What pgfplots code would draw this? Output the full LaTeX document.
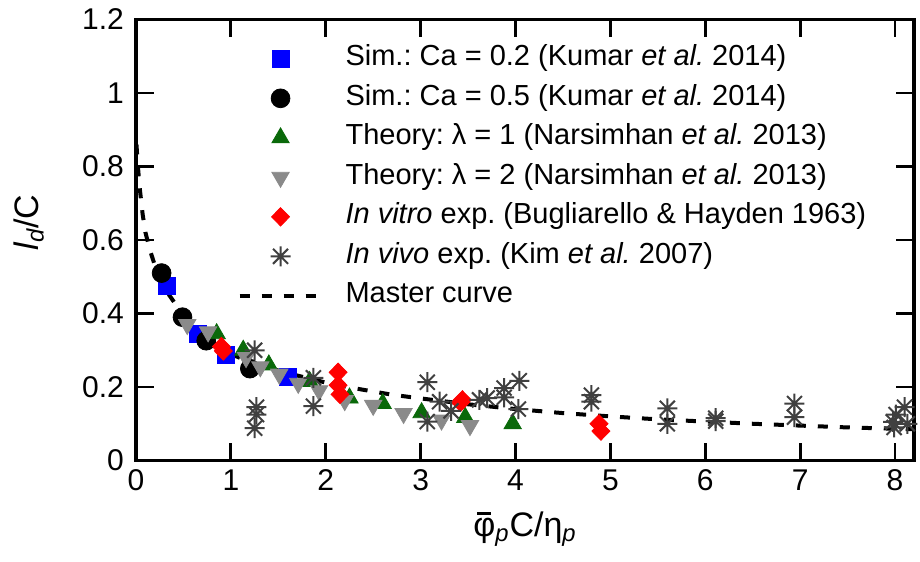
\documentclass[border=0pt]{standalone}
\usepackage{fontspec}
\setmainfont{Liberation Sans}
\usepackage{pgfplots}
\pgfplotsset{compat=1.18}
\usetikzlibrary{calc}
\frenchspacing
\definecolor{tgreen}{RGB}{10,105,10}
\definecolor{tgray}{RGB}{138,138,138}
\definecolor{tblue}{RGB}{0,0,255}
\definecolor{tred}{RGB}{255,0,0}
\newcommand{\phibar}{\leavevmode\setbox0\hbox{φ}\rlap{\hbox to\wd0{\hss\rule[\dimexpr\ht0+0.09em\relax]{0.42em}{0.065em}\hss}}φ}
\pgfdeclareplotmark{gstar}{%
  \pgfpathmoveto{\pgfqpoint{-\pgfplotmarksize}{0pt}}\pgfpathlineto{\pgfqpoint{\pgfplotmarksize}{0pt}}%
  \pgfpathmoveto{\pgfqpoint{0pt}{-\pgfplotmarksize}}\pgfpathlineto{\pgfqpoint{0pt}{\pgfplotmarksize}}%
  \pgfpathmoveto{\pgfqpoint{-.75\pgfplotmarksize}{-.75\pgfplotmarksize}}\pgfpathlineto{\pgfqpoint{.75\pgfplotmarksize}{.75\pgfplotmarksize}}%
  \pgfpathmoveto{\pgfqpoint{-.75\pgfplotmarksize}{.75\pgfplotmarksize}}\pgfpathlineto{\pgfqpoint{.75\pgfplotmarksize}{-.75\pgfplotmarksize}}%
  \pgfusepathqstroke}
\begin{document}
\begin{tikzpicture}
\begin{axis}[
  name=ax,
  scale only axis, width=389pt, height=220.5pt,
  xmin=0, xmax=8.2, ymin=0, ymax=1.2,
  xtick={0,1,2,3,4,5,6,7,8},
  ytick={0,0.2,0.4,0.6,0.8,1,1.2},
  yticklabels={0,0.2,0.4,0.6,0.8,1,1.2},
  tick align=inside, major tick length=9pt,
  axis line style={line width=1.8pt},
  every tick/.style={line width=1.4pt, black},
  /pgf/number format/assume math mode=true,
  tick label style={font=\fontsize{15}{17}\selectfont},
  yticklabel style={xshift=-2.5pt},
  xticklabel style={yshift=-1pt},
  xlabel={\phibar\textsubscript{\itshape p}C/η\textsubscript{\itshape p}},
  ylabel={{\itshape l}\textsubscript{\itshape d}/C},
  label style={font=\fontsize{17}{20}\selectfont},
  xlabel style={at={(axis description cs:0.5,-0.155)}, anchor=center},
  ylabel style={at={(axis description cs:-0.138,0.54)}, anchor=center, rotate=0},
  legend image code/.code={\draw[mark repeat=2,mark phase=2,#1] plot coordinates {(0pt,0pt) (20.5pt,0pt) (41pt,0pt)};},
  legend style={draw=none, fill=none, inner sep=0pt, at={(axis description cs:0.13,0.948)}, anchor=north west,
    font=\fontsize{14.5}{17}\selectfont, row sep=3.75pt, column sep=0pt,
    nodes={inner sep=1pt, text height=10.5pt, text depth=3.5pt}},
  legend cell align=left,
]
\addplot[only marks, mark=square*, mark size=4.25pt, color=tblue] coordinates {
(0.33,0.475) (0.65,0.345) (0.95,0.288) (1.6,0.228)};
\addlegendentry{\hspace{10pt}Sim.: Ca = 0.2 (Kumar \textit{et al.} 2014)}
\addplot[only marks, mark=*, mark size=4.7pt, color=black] coordinates {
(0.27,0.51) (0.49,0.39) (0.74,0.326) (1.2,0.25)};
\addlegendentry{\hspace{10pt}Sim.: Ca = 0.5 (Kumar \textit{et al.} 2014)}
\addplot[only marks, mark=triangle*, mark size=5pt, color=tgreen] coordinates {
(0.85,0.345) (1.13,0.30) (1.4,0.26) (1.83,0.215) (2.25,0.17) (2.6,0.155) (3.01,0.13) (3.47,0.117) (3.97,0.10)};
\addlegendentry{\hspace{10pt}Theory: λ = 1 (Narsimhan \textit{et al.} 2013)}
\addplot[only marks, mark=triangle*, mark size=5pt, color=tgray, mark options={rotate=180}] coordinates {
(0.54,0.37) (0.76,0.35) (1.16,0.28) (1.31,0.255) (1.51,0.235) (1.71,0.21) (1.93,0.19) (2.2,0.163) (2.5,0.15) (2.82,0.128) (3.22,0.11) (3.52,0.095)};
\addlegendentry{\hspace{10pt}Theory: λ = 2 (Narsimhan \textit{et al.} 2013)}
\addplot[only marks, mark=diamond*, mark size=4.6pt, color=tred, mark options={xscale=1.3}] coordinates {
(0.9,0.31) (0.92,0.298) (2.13,0.24) (2.13,0.205) (2.15,0.18) (3.42,0.158) (3.44,0.165) (4.88,0.1) (4.9,0.08)};
\addlegendentry{\hspace{10pt}\textit{In vitro} exp. (Bugliarello \& Hayden 1963)}
\addplot[only marks, mark=gstar, mark size=5pt, color=black!75, mark options={line width=1pt}] coordinates {
(1.25,0.30) (1.27,0.145) (1.27,0.125) (1.25,0.088) (1.87,0.225) (1.87,0.148)
(3.07,0.213) (3.2,0.16) (3.07,0.106) (3.32,0.135) (3.62,0.165) (3.7,0.17) (3.88,0.197) (3.88,0.172) (4.04,0.217) (4.03,0.14)
(4.8,0.178) (4.8,0.16) (5.6,0.142) (5.6,0.10) (6.11,0.115) (6.11,0.107) (6.94,0.155) (6.94,0.118)
(7.98,0.105) (8.01,0.125) (8.1,0.145) (7.99,0.09) (8.13,0.1)};
\addlegendentry{\hspace{10pt}\textit{In vivo} exp. (Kim \textit{et al.} 2007)}
\addplot[black, line width=2pt, dash pattern=on 5pt off 6pt, no marks] coordinates {
(0.005,0.86) (0.02,0.80) (0.04,0.74) (0.07,0.67) (0.1,0.62) (0.15,0.57) (0.2,0.53) (0.27,0.49) (0.35,0.45) (0.5,0.395) (0.72,0.335) (1.0,0.29) (1.22,0.265) (1.64,0.235) (2.0,0.212) (2.27,0.198) (2.7,0.179) (3.0,0.169) (3.5,0.153) (4.0,0.140) (4.5,0.129) (5.0,0.120) (5.5,0.112) (6.0,0.106) (6.5,0.100) (7.0,0.095) (7.5,0.090) (8.2,0.085)};
\addlegendentry{\hspace{10pt}Master curve}
\end{axis}
\pgfresetboundingbox
\path[use as bounding box] ($(ax.south west)+(-68pt,-50.25pt)$) rectangle ($(ax.north east)+(3pt,9.75pt)$);
\end{tikzpicture}
\end{document}
